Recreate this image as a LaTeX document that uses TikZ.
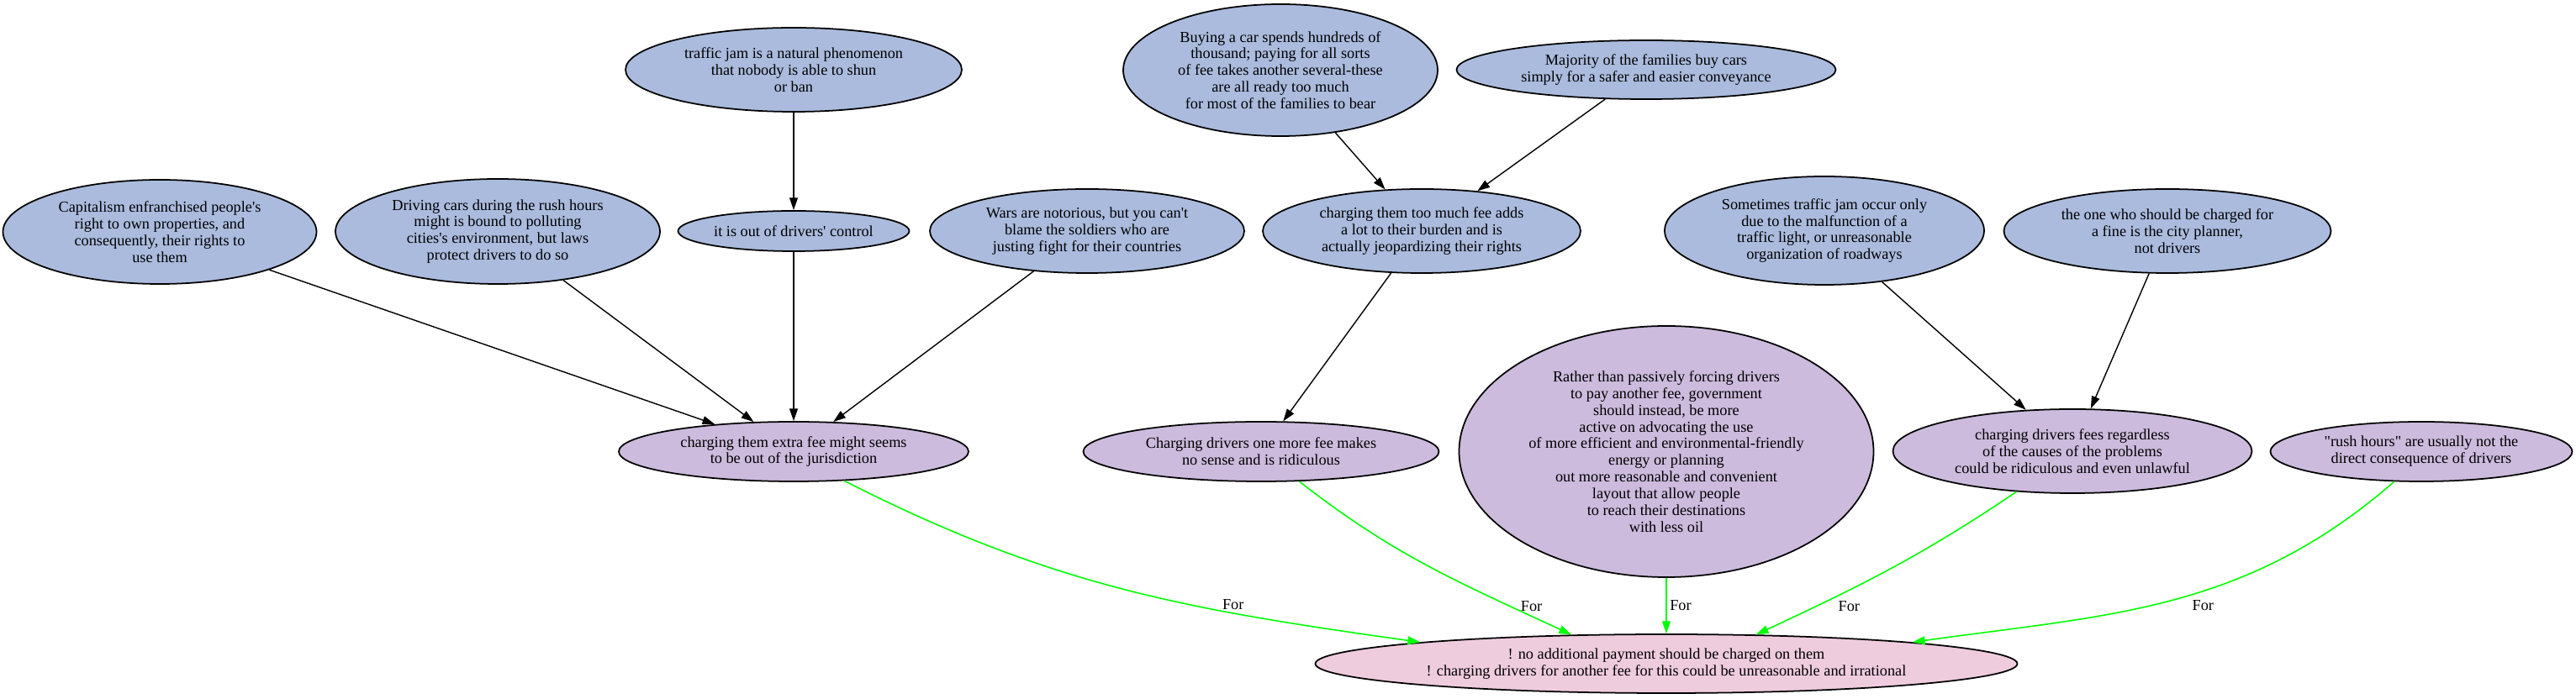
\documentclass[tikz,border=0pt]{standalone}
\usepackage{fontspec}
\setmainfont{Liberation Serif}
\usetikzlibrary{arrows.meta,shapes}
\definecolor{premise}{HTML}{AABBDD}
\definecolor{reason}{HTML}{CCBBDD}
\definecolor{claimpink}{HTML}{EECCDD}
\definecolor{forgreen}{HTML}{00FF00}

\begin{document}
\begin{tikzpicture}[>={Triangle[length=4.2pt,width=2.8pt]},
  every node/.style={font=\fontsize{5.2}{5.66}\selectfont},
  arg/.style 2 args={draw, ellipse, line width=0.5pt, inner sep=-20pt,
              align=center, minimum width=#1cm, minimum height=#2cm},
  link/.style={->, line width=0.4pt},
  pro/.style={->, draw=forgreen, line width=0.45pt},
  lbl/.style={inner sep=1pt}]
  \useasboundingbox[fill=white] (0,0) rectangle (30.64,-8.32);
  % Top row (premises)
  \node[arg={4.00}{1.00}, fill=premise] (tj) at (9.44, -0.83)
    {traffic jam is a natural phenomenon\\that nobody is able to shun\\or ban};
  \node[arg={3.74}{1.57}, fill=premise] (buy) at (15.23, -0.835)
    {Buying a car spends hundreds of\\thousand; paying for all sorts\\of fee takes another several-these\\are all ready too much\\for most of the families to bear};
  \node[arg={4.51}{0.70}, fill=premise] (maj) at (19.58, -0.83)
    {Majority of the families buy cars\\simply for a safer and easier conveyance};
  % Second row
  \node[arg={3.73}{1.24}, fill=premise] (cap) at (1.90, -2.76)
    {Capitalism enfranchised people\textquotesingle s\\right to own properties, and\\consequently, their rights to\\use them};
  \node[arg={3.86}{1.25}, fill=premise] (drv) at (5.92, -2.755)
    {Driving cars during the rush hours\\might is bound to polluting\\cities\textquotesingle s environment, but laws\\protect drivers to do so};
  \node[arg={2.75}{0.48}, fill=premise] (ctl) at (9.44, -2.75)
    {it is out of drivers\textquotesingle{} control};
  \node[arg={3.74}{1.00}, fill=premise] (wars) at (12.93, -2.75)
    {Wars are notorious, but you can\textquotesingle t\\blame the soldiers who are\\justing fight for their countries};
  \node[arg={3.78}{1.00}, fill=premise] (burden) at (16.91, -2.75)
    {charging them too much fee adds\\a lot to their burden and is\\actually jeopardizing their rights};
  \node[arg={3.80}{1.29}, fill=premise] (cause) at (21.70, -2.745)
    {Sometimes traffic jam occur only\\due to the malfunction of a\\traffic light, or unreasonable\\organization of roadways};
  \node[arg={3.89}{1.00}, fill=premise] (planner) at (25.78, -2.75)
    {the one who should be charged for\\a fine is the city planner,\\not drivers};
  % Third row (reasons)
  \node[arg={4.16}{0.71}, fill=reason] (jur) at (9.44, -5.375)
    {charging them extra fee might seems\\to be out of the jurisdiction};
  \node[arg={4.23}{0.71}, fill=reason] (ridic) at (15.00, -5.375)
    {Charging drivers one more fee makes\\no sense and is ridiculous};
  \node[arg={4.93}{2.99}, fill=reason] (gov) at (19.82, -5.375)
    {Rather than passively forcing drivers\\to pay another fee, government\\should instead, be more\\active on advocating the use\\of more efficient and environmental-friendly\\energy or planning\\out more reasonable and convenient\\layout that allow people\\to reach their destinations\\with less oil};
  \node[arg={4.27}{1.00}, fill=reason] (reg) at (24.65, -5.37)
    {charging drivers fees regardless\\of the causes of the problems\\could be ridiculous and even unlawful};
  \node[arg={3.59}{0.71}, fill=reason] (rush) at (28.80, -5.375)
    {\textquotedbl rush hours\textquotedbl{} are usually not the\\direct consequence of drivers};
  % Conclusion
  \node[arg={8.35}{0.70}, fill=claimpink] (concl) at (19.82, -7.90)
    {! no additional payment should be charged on them\\! charging drivers for another fee for this could be unreasonable and irrational};
  % Supporting links
  \draw[link] (tj) -- (ctl);
  \draw[link] (cap) -- (jur);
  \draw[link] (drv) -- (jur);
  \draw[link] (ctl) -- (jur);
  \draw[link] (wars) -- (jur);
  \draw[link] (buy) -- (burden);
  \draw[link] (maj) -- (burden);
  \draw[link] (burden) -- (ridic);
  \draw[link] (cause) -- (reg);
  \draw[link] (planner) -- (reg);
  % "For" links to the conclusion
  \draw[pro] (jur.-30) to[out=-27, in=172]
    node[lbl, pos=0.7, above] {For} (concl.175);
  \draw[pro] (ridic.-38) to[out=-38, in=155]
    node[lbl, pos=0.8, right=2.5pt] {For} (concl.163);
  \draw[pro] (gov.south) -- node[lbl, right] {For} (concl.north);
  \draw[pro] (reg.216) to[out=214, in=25]
    node[lbl, pos=0.79, right=6pt] {For} (concl.18);
  \draw[pro] (rush.228) to[out=221, in=8]
    node[lbl, pos=0.43, below=2pt] {For} (concl.5);
\end{tikzpicture}
\end{document}
